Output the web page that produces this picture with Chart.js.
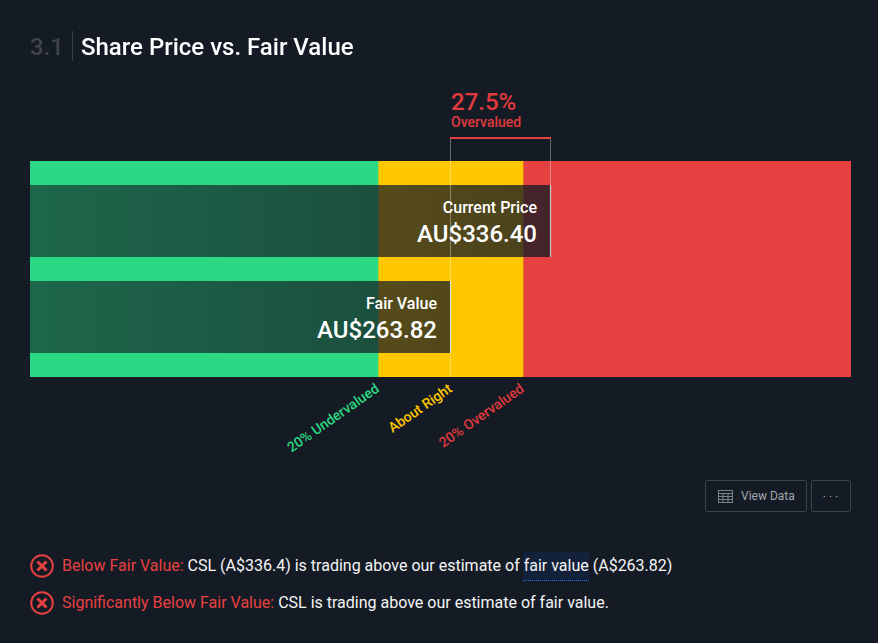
<!DOCTYPE html>
<html>
<head>
<meta charset="utf-8">
<script src="https://cdn.jsdelivr.net/npm/chart.js@4/dist/chart.umd.min.js"></script>
<style>
html,body{margin:0;padding:0;width:878px;height:643px;overflow:hidden;background:#151b24;font-family:Roboto,sans-serif;color:#fff;}
#wrap{position:absolute;left:0;top:0;width:878px;height:480px;}
canvas{display:block;}
.abs{position:absolute;white-space:nowrap;}
.num{left:30px;top:33px;font-size:24px;line-height:28px;font-weight:500;color:#3f444d;}
.sep{left:72px;top:31px;width:1px;height:30px;background:#3a3f48;}
.title{left:81px;top:33px;font-size:24px;line-height:28px;font-weight:500;color:#fff;}
.btn{box-sizing:border-box;border:1px solid #3c414b;border-radius:2px;height:32px;top:480px;color:#a3a7ae;font-size:12px;line-height:30px;}
.row{left:62px;font-size:16px;line-height:24px;color:#f4f5f6;}
.red{color:#e64141;}
.hl{display:inline-block;background:#14213a;border-bottom:1px dotted #2b72e0;height:28px;line-height:28px;margin-top:-2px;margin-left:-1px;padding-left:1px;vertical-align:top;}
svg{position:absolute;}
</style>
</head>
<body>
<div id="wrap"><canvas id="c" width="878" height="480" style="width:878px;height:480px"></canvas></div>
<div class="abs num">3.1</div>
<div class="abs sep"></div>
<div class="abs title">Share Price vs. Fair Value</div>
<div class="abs btn" style="left:705px;width:102px;"><span style="position:absolute;left:35px;">View Data</span>
<svg style="left:12px;top:9px" width="15" height="13" viewBox="0 0 15 13" fill="none" stroke="#7d828a" stroke-width="1"><rect x="0.5" y="0.5" width="14" height="12"/><path d="M0 3.5H15M0 6.5H15M0 9.5H15M5 3V13M10 3V13"/></svg></div>
<div class="abs btn" style="left:811px;width:40px;text-align:center;letter-spacing:3px;line-height:33px;padding-left:2px;">&middot;&middot;&middot;</div>
<svg style="left:30px;top:554px" width="24" height="24" viewBox="0 0 24 24" fill="none" stroke="#e64141"><circle cx="12" cy="12" r="10.8" stroke-width="2"/><path d="M7.5 7.5L16.5 16.5M16.5 7.5L7.5 16.5" stroke-width="3"/></svg>
<svg style="left:30px;top:591px" width="24" height="24" viewBox="0 0 24 24" fill="none" stroke="#e64141"><circle cx="12" cy="12" r="10.8" stroke-width="2"/><path d="M7.5 7.5L16.5 16.5M16.5 7.5L7.5 16.5" stroke-width="3"/></svg>
<div class="abs row" style="top:554px;"><span class="red">Below Fair Value:</span> CSL (A$336.4) is trading above our estimate of <span class="hl">fair value</span> (A$263.82)</div>
<div class="abs row" style="top:591px;"><span class="red">Significantly Below Fair Value:</span> CSL is trading above our estimate of fair value.</div>
<script>
const priceLabels = ['Current Price', 'Fair Value'];
const priceValues = [336.40, 263.82];
const priceTexts = ['AU$336.40', 'AU$263.82'];
const axisMin = -41.74;
const axisMax = 554.14;
const lowerBand = 210.9;
const upperBand = 316.1;
const bandLabels = ['20% Undervalued', 'About Right', '20% Overvalued'];
const tickValues = [lowerBand, priceValues[1], upperBand];
const tickColors = ['#2bd984', '#ffc700', '#e03a3e'];
const bandColors = ['#2bd984', '#ffc700', '#e64141'];
const diffPercent = '27.5%';
const diffLabel = 'Overvalued';

const c = document.getElementById('c');
c.getContext('2d', {alpha:false});

function overlay(ctx){
  const ch = ctx.chart, a = ch.chartArea;
  if(!a) return 'rgba(21,27,36,0.7)';
  const g = ch.ctx.createLinearGradient(a.left,0,a.right,0);
  g.addColorStop(0,'rgba(21,27,36,0.6)');
  g.addColorStop(0.42,'rgba(21,27,36,0.72)');
  g.addColorStop(0.65,'rgba(21,27,36,0.78)');
  return g;
}

const annot = {
  id:'annot',
  beforeDraw(ch){
    const x = ch.ctx;
    x.save(); x.fillStyle='#151b24'; x.fillRect(0,0,ch.width,ch.height); x.restore();
  },
  afterDatasetsDraw(ch){
    const x = ch.ctx, sx = ch.scales.x, a = ch.chartArea;
    const meta = ch.getDatasetMeta(3);
    const xc = sx.getPixelForValue(priceValues[0])-0.5;
    const xf = sx.getPixelForValue(priceValues[1])-0.5;
    const top = 138;
    x.save();
    x.lineWidth=1; x.strokeStyle='rgba(255,255,255,0.35)';
    x.beginPath();
    x.moveTo(xf,top); x.lineTo(xf,a.bottom);
    x.moveTo(xc,top); x.lineTo(xc,a.top+24);
    x.stroke();
    x.fillStyle='#e64141';
    x.fillRect(xf-0.5,137,xc-xf+1,2);
    x.textAlign='right'; x.textBaseline='alphabetic'; x.fillStyle='#fff';
    meta.data.forEach((bar,i)=>{
      const rx = sx.getPixelForValue(priceValues[i])-14;
      x.font='500 16px Roboto';
      x.fillText(priceLabels[i],rx,bar.y-8);
      x.font='500 24px Roboto';
      x.fillText(priceTexts[i],rx,bar.y+21);
    });
    x.textAlign='left'; x.fillStyle='#e03a3e';
    x.font='500 24px Roboto';
    x.fillText(diffPercent,xf+0.5,110);
    x.font='500 14px Roboto';
    x.fillText(diffLabel,xf+0.5,127);
    x.restore();
  }
};

new Chart(c,{
  type:'bar',
  data:{
    datasets:[
      {label:'Undervalued',yAxisID:'band',order:3,data:[[axisMin,lowerBand]],backgroundColor:bandColors[0],categoryPercentage:1,barPercentage:1,grouped:false},
      {label:'About Right',yAxisID:'band',order:3,data:[[lowerBand,upperBand]],backgroundColor:bandColors[1],categoryPercentage:1,barPercentage:1,grouped:false},
      {label:'Overvalued',yAxisID:'band',order:3,data:[[upperBand,axisMax]],backgroundColor:bandColors[2],categoryPercentage:1,barPercentage:1,grouped:false},
      {label:'Price',yAxisID:'y',order:1,data:priceValues.map((v,i)=>({x:[axisMin,v],y:i})),backgroundColor:overlay,borderColor:'#ffffff',borderWidth:{top:0,right:1,bottom:0,left:0},borderSkipped:false,barThickness:72,grouped:false}
    ]
  },
  options:{
    indexAxis:'y',
    responsive:false,
    animation:false,
    devicePixelRatio:1,
    layout:{padding:{left:30,right:27,top:161,bottom:0}},
    plugins:{legend:{display:false},tooltip:{enabled:false}},
    scales:{
      x:{
        type:'linear',min:axisMin,max:axisMax,
        grid:{display:false},border:{display:false},
        afterBuildTicks(s){ s.ticks = tickValues.map(v=>({value:v})); },
        afterFit(s){ s.height = 103; },
        ticks:{
          autoSkip:false,minRotation:35,maxRotation:35,padding:-4,
          font:{family:'Roboto',size:14,weight:'500'},
          color:(ctx)=>tickColors[ctx.index],
          callback:(v,i)=>bandLabels[i]
        }
      },
      y:{type:'linear',offset:false,min:-0.625,max:1.625,reverse:true,display:false,grid:{display:false}},
      band:{type:'category',labels:['Range'],display:false,grid:{display:false}}
    }
  },
  plugins:[annot]
});
</script>
</body>
</html>
